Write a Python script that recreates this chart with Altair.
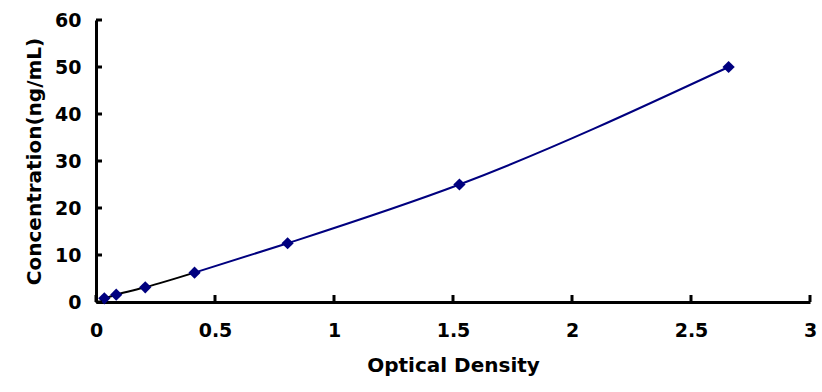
import altair as alt
import pandas as pd

od = [0.035, 0.085, 0.207, 0.414, 0.805, 1.527, 2.658]
conc = [0.78, 1.56, 3.125, 6.25, 12.5, 25, 50]
x_ticks = [0, 0.5, 1, 1.5, 2, 2.5, 3]
y_ticks = [0, 10, 20, 30, 40, 50, 60]

W, H = 714, 282
FONT = "DejaVu Sans"
NAVY = "#00007F"

df = pd.DataFrame({"od": od, "conc": conc})
df_low = df.iloc[:4]
df_high = df.iloc[3:]

xs = alt.Scale(domain=[0, 3], nice=False, zero=False)
ys = alt.Scale(domain=[0, 60], nice=False, zero=False)

x_axis = alt.Axis(values=x_ticks, format="~f", ticks=False, grid=False, domainColor="black",
                  domainWidth=3, labelFont=FONT, labelFontSize=19, labelFontWeight="bold",
                  labelColor="black", labelPadding=19, labelFlush=False,
                  title="Optical Density", titleFont=FONT, titleFontSize=20,
                  titleFontWeight="bold", titleColor="black", titlePadding=15)
y_axis = alt.Axis(values=y_ticks, format="d", ticks=False, grid=False, domainColor="black",
                  domainWidth=3, labelFont=FONT, labelFontSize=19, labelFontWeight="bold",
                  labelColor="black", labelPadding=15, labelFlush=False,
                  title="Concentration(ng/mL)", titleFont=FONT, titleFontSize=20,
                  titleFontWeight="bold", titleColor="black", titlePadding=10)

base = alt.Chart(df)

line_low = alt.Chart(df_low).mark_line(color="black", strokeWidth=2, interpolate="monotone").encode(
    x=alt.X("od:Q", scale=xs, axis=x_axis),
    y=alt.Y("conc:Q", scale=ys, axis=y_axis),
)
line_high = alt.Chart(df_high).mark_line(color=NAVY, strokeWidth=2, interpolate="monotone").encode(
    x=alt.X("od:Q", scale=xs),
    y=alt.Y("conc:Q", scale=ys),
)
pts = base.mark_point(shape="diamond", filled=True, color=NAVY, size=150, opacity=1).encode(
    x=alt.X("od:Q", scale=xs),
    y=alt.Y("conc:Q", scale=ys),
)

xt = alt.Chart(pd.DataFrame({"t": x_ticks})).mark_rule(color="black", strokeWidth=3).encode(
    x=alt.X("t:Q", scale=xs),
    y=alt.value(H - 7),
    y2=alt.value(H),
)
yt = alt.Chart(pd.DataFrame({"t": y_ticks})).mark_rule(color="black", strokeWidth=3).encode(
    y=alt.Y("t:Q", scale=ys),
    x=alt.value(0),
    x2=alt.value(6),
)

chart = alt.layer(line_low, line_high, pts, xt, yt).properties(
    width=W, height=H,
    autosize=alt.AutoSizeParams(type="none"),
    padding={"left": 96, "top": 20, "right": 12, "bottom": 90},
    background="white",
).configure_view(stroke=None)

chart.save("out.html", embed_options={"renderer": "svg", "actions": False})
